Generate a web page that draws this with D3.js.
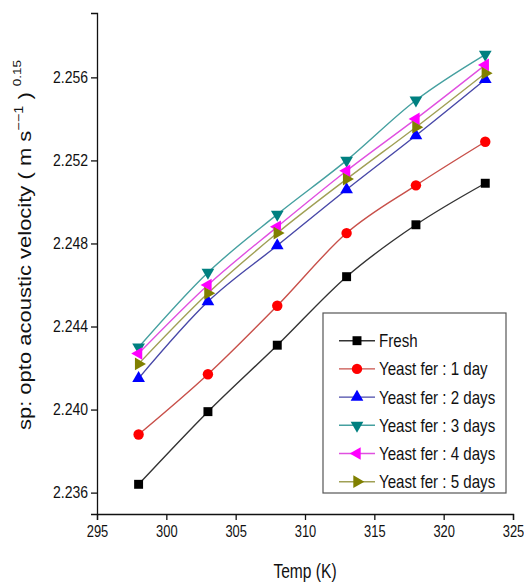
<!DOCTYPE html>
<html lang="en">
<head>
<meta charset="utf-8">
<title>Opto acoustic velocity vs temperature</title>
<script src="https://d3js.org/d3.v7.min.js"></script>
<style>
  body { margin: 0; background: #fff; }
  text { font-family: "Liberation Sans", Arial, sans-serif; fill: #111; }
</style>
</head>
<body>
<script>
// data
var temps = [298, 303, 308, 313, 318, 323];
var seriesNames = ["Fresh", "Yeast fer : 1 day", "Yeast fer : 2 days", "Yeast fer : 3 days", "Yeast fer : 4 days", "Yeast fer : 5 days"];
var fresh = [2.2364, 2.2399, 2.2431, 2.2464, 2.2489, 2.2509];
var day1  = [2.2388, 2.2417, 2.2450, 2.2485, 2.2508, 2.2529];
var day2  = [2.2415, 2.2452, 2.2479, 2.2506, 2.2532, 2.2559];
var day3  = [2.2430, 2.2466, 2.2494, 2.2520, 2.2549, 2.2571];
var day4  = [2.2427, 2.2460, 2.2488, 2.2515, 2.2540, 2.2566];
var day5  = [2.2422, 2.2456, 2.2485, 2.2511, 2.2536, 2.2562];
var xTicks = [295, 300, 305, 310, 315, 320, 325];
var yTicks = [2.236, 2.240, 2.244, 2.248, 2.252, 2.256];

var width = 524, height = 584;
var margin = {top: 13, right: 11, bottom: 70, left: 97};

var styles = [
    {marker: "#000000", line: "#333333", shape: d3.symbolSquare, size: 80, rot: 0},
    {marker: "#ff0000", line: "#c8504a", shape: d3.symbolCircle, size: 85, rot: 0},
    {marker: "#0000ff", line: "#4848a8", shape: d3.symbolTriangle, size: 70, rot: 0},
    {marker: "#008080", line: "#45a0a0", shape: d3.symbolTriangle, size: 70, rot: 180},
    {marker: "#ff00ff", line: "#e050e0", shape: d3.symbolTriangle, size: 70, rot: -90},
    {marker: "#808000", line: "#a0a055", shape: d3.symbolTriangle, size: 70, rot: 90}
];
var allValues = [fresh, day1, day2, day3, day4, day5];
var series = seriesNames.map(function (name, i) {
    return {name: name, style: styles[i], values: temps.map(function (t, j) { return {t: t, v: allValues[i][j]}; })};
});

var svg = d3.select("body").append("svg")
    .attr("width", width)
    .attr("height", height);

var x = d3.scaleLinear().domain([295, 325]).range([margin.left, width - margin.right]);
var y = d3.scaleLinear().domain([2.23497, 2.2591]).range([height - margin.bottom, margin.top]);

// axes
var xAxis = svg.append("g")
    .attr("transform", "translate(0," + (height - margin.bottom) + ")")
    .call(d3.axisBottom(x).tickValues(xTicks).tickFormat(d3.format("d")).tickSizeOuter(0).tickSize(6));
xAxis.selectAll("text")
    .attr("font-size", 17)
    .attr("y", 10.5)
    .attr("dy", "0.71em")
    .attr("transform", "scale(0.76,1)");

var yAxis = svg.append("g")
    .attr("transform", "translate(" + margin.left + ",0)")
    .call(d3.axisLeft(y).tickValues(yTicks).tickFormat(d3.format(".3f")).tickSizeOuter(0).tickSize(6));
yAxis.selectAll("text")
    .attr("font-size", 16.5)
    .attr("x", -10.5)
    .attr("transform", "scale(0.85,1)");

svg.selectAll(".domain, .tick line").attr("stroke", "#111").attr("stroke-width", 1.3);

// axis titles
svg.append("text")
    .attr("transform", "translate(305,578) scale(0.76,1)")
    .attr("text-anchor", "middle")
    .attr("font-size", 20.5)
    .text("Temp (K)");

var yTitle = svg.append("text")
    .attr("transform", "translate(31,245) rotate(-90) scale(1,0.85)")
    .attr("text-anchor", "middle")
    .attr("font-size", 22);
yTitle.append("tspan").text("sp: opto acoustic velocity ( m s");
yTitle.append("tspan").attr("font-size", 14.5).attr("dy", -9).text("\u2212\u22121");
yTitle.append("tspan").attr("dy", 9).text(" ) ");
yTitle.append("tspan").attr("font-size", 13.5).attr("dy", -12).text("0.15");

// lines and markers
var line = d3.line()
    .x(function (d) { return x(d.t); })
    .y(function (d) { return y(d.v); })
    .curve(d3.curveMonotoneX);

series.forEach(function (s) {
    svg.append("path")
        .datum(s.values)
        .attr("fill", "none")
        .attr("stroke", s.style.line)
        .attr("stroke-width", 1.4)
        .attr("d", line);
});

series.forEach(function (s) {
    svg.append("g").selectAll("path")
        .data(s.values)
        .join("path")
        .attr("d", d3.symbol().type(s.style.shape).size(s.style.size))
        .attr("transform", function (d) { return "translate(" + x(d.t) + "," + y(d.v) + ") rotate(" + s.style.rot + ")"; })
        .attr("fill", s.style.marker);
});

// legend
var legend = svg.append("g");
legend.append("rect")
    .attr("x", 323).attr("y", 313)
    .attr("width", 183).attr("height", 180)
    .attr("fill", "#fff")
    .attr("stroke", "#555")
    .attr("stroke-width", 1.2);

var legendRows = legend.selectAll("g.row")
    .data(series)
    .join("g")
    .attr("class", "row")
    .attr("transform", function (d, i) { return "translate(0," + (340.7 + i * 28.2) + ")"; });

legendRows.append("line")
    .attr("x1", 339).attr("x2", 375)
    .attr("stroke", function (d) { return d.style.line; })
    .attr("stroke-width", 1.4);

legendRows.append("path")
    .attr("d", function (d) { return d3.symbol().type(d.style.shape).size(d.style.size)(); })
    .attr("transform", function (d) { return "translate(357,0) rotate(" + d.style.rot + ")"; })
    .attr("fill", function (d) { return d.style.marker; });

legendRows.append("text")
    .attr("transform", "translate(379,0) scale(0.84,1)")
    .attr("dy", "0.36em")
    .attr("font-size", 18)
    .text(function (d) { return d.name; });
</script>
</body>
</html>
